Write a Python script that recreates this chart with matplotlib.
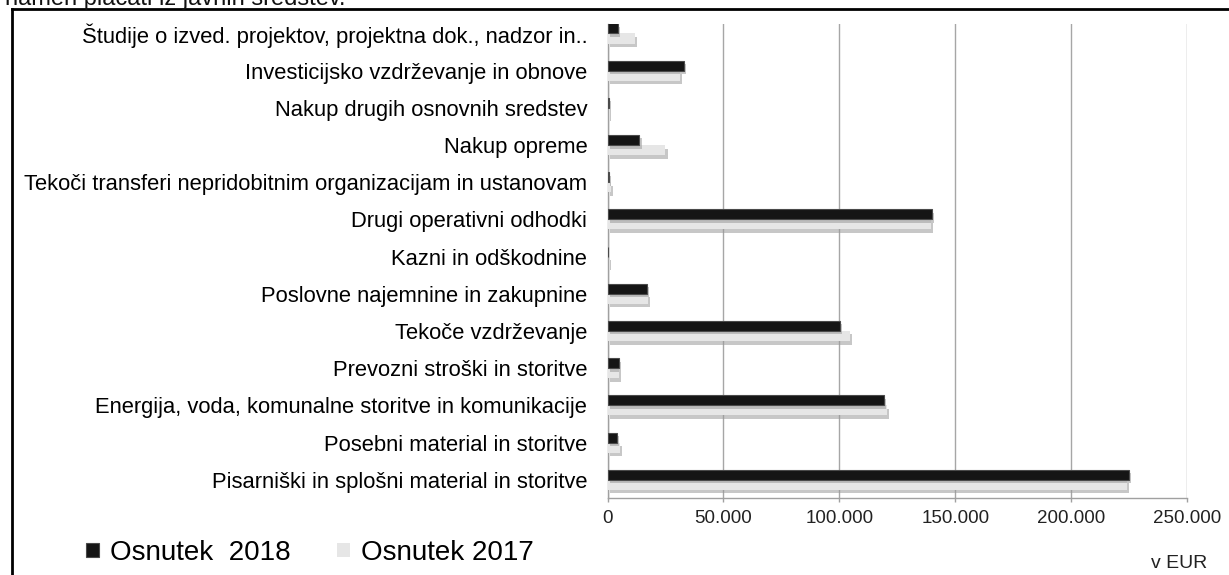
import matplotlib
matplotlib.use("Agg")
import matplotlib.pyplot as plt
import matplotlib.patheffects as pe
from matplotlib.patches import Patch
from matplotlib.lines import Line2D
from matplotlib.ticker import FuncFormatter

plt.rcParams['font.family'] = ['Liberation Sans', 'DejaVu Sans']

categories = [
    "Študije o izved. projektov, projektna dok., nadzor in..",
    "Investicijsko vzdrževanje in obnove",
    "Nakup drugih osnovnih sredstev",
    "Nakup opreme",
    "Tekoči transferi nepridobitnim organizacijam in ustanovam",
    "Drugi operativni odhodki",
    "Kazni in odškodnine",
    "Poslovne najemnine in zakupnine",
    "Tekoče vzdrževanje",
    "Prevozni stroški in storitve",
    "Energija, voda, komunalne storitve in komunikacije",
    "Posebni material in storitve",
    "Pisarniški in splošni material in storitve",
]
osnutek_2018 = [4500, 32800, 800, 13800, 800, 140000, 200, 17000, 100400, 5000, 119400, 4000, 224800]
osnutek_2017 = [11800, 31200, 400, 25000, 1500, 139600, 400, 17300, 104700, 5000, 120400, 5500, 224200]
series_labels = ["Osnutek  2018", "Osnutek 2017"]
x_ticks = [0, 50000, 100000, 150000, 200000, 250000]

W, H = 1229, 575
fig = plt.figure(figsize=(W / 100, H / 100), dpi=100)
ax = fig.add_axes([607.5 / W, (H - 498) / H, (1187 - 607.5) / W, (498 - 24) / H])

pos = list(range(len(categories)))
bh = 0.27
shadow = [pe.SimplePatchShadow(offset=(1.5, -2.5), shadow_rgbFace='#9a9a9a', alpha=0.55), pe.Normal()]

b17 = ax.barh([p + bh / 2 for p in pos], osnutek_2017, height=bh, color='#e6e6e6',
              edgecolor='none', zorder=3)
b18 = ax.barh([p - bh / 2 for p in pos], osnutek_2018, height=bh, color='#151515',
              edgecolor='#4a4a4a', linewidth=0.8, zorder=4)
for r in list(b17) + list(b18):
    r.set_path_effects(shadow)

ax.set_xlim(0, 250000)
ax.set_ylim(12.49, -0.255)
ax.set_xticks(x_ticks)
ax.xaxis.set_major_formatter(FuncFormatter(lambda v, p: f"{int(v):,}".replace(",", ".")))
ax.set_yticks(pos)
ax.set_yticklabels(categories, fontsize=15.8, color='black')
ax.tick_params(axis='y', length=0, pad=14.5)
ax.tick_params(axis='x', length=3, width=1, color='#a0a0a0', pad=5.5, labelsize=13.5,
               labelcolor='#222222')
ax.grid(axis='x', color='#a6a6a6', linewidth=1, zorder=0)
ax.set_axisbelow(True)
for s in ['top', 'right']:
    ax.spines[s].set_visible(False)
for s in ['left', 'bottom']:
    ax.spines[s].set_color('#a0a0a0')
    ax.spines[s].set_linewidth(1)

# legend
handles = [Patch(facecolor='#151515', edgecolor='#4a4a4a', linewidth=0.8),
           Patch(facecolor='#e6e6e6', edgecolor='none')]
fig.legend(handles, series_labels, loc='center left', bbox_to_anchor=(86 / W, (H - 553) / H),
           ncol=2, frameon=False, fontsize=20, handlelength=0.45, handleheight=0.4,
           handletextpad=0.4, columnspacing=1.7, borderpad=0, borderaxespad=0)

fig.text(1151 / W, (H - 555) / H, "v EUR", fontsize=14, va='top', ha='left', color='#222222')
fig.text(5 / W, (H - 5) / H, "namen plačati iz javnih sredstev.", fontsize=17, va='baseline',
         ha='left', color='#111111')

# outer frame
fig.add_artist(Line2D([11.5 / W, 11.5 / W], [0, (H - 9) / H], color='black', linewidth=2,
                      transform=fig.transFigure))
fig.add_artist(Line2D([11.5 / W, 1.0], [(H - 9) / H, (H - 9) / H], color='black', linewidth=2,
                      transform=fig.transFigure))

fig.savefig("out.png", dpi=100)
